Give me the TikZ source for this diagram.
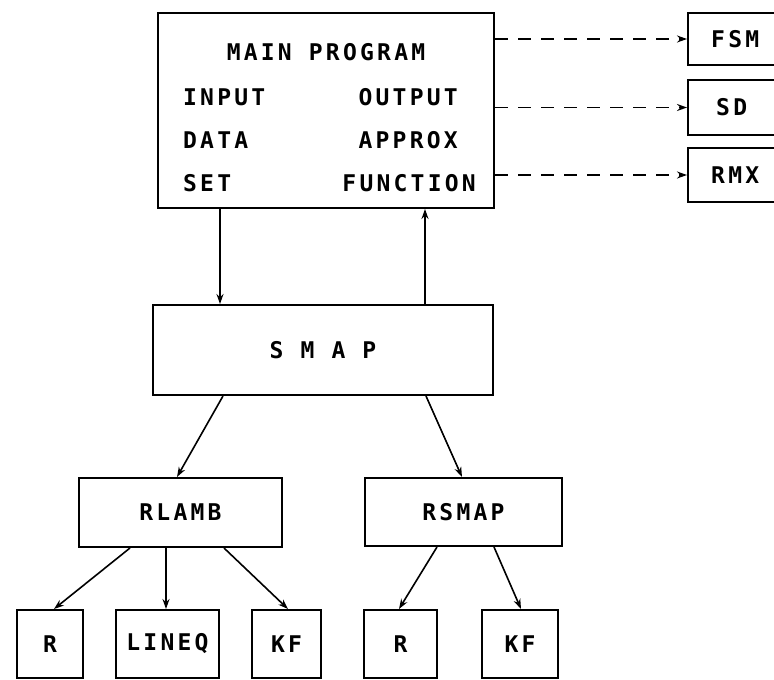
\documentclass[tikz,border=0pt]{standalone}
\usepackage{fontspec}
\newfontfamily\dotfont[LetterSpace=14]{DejaVu Sans Mono Bold}
\usetikzlibrary{arrows.meta}
\begin{document}
\begin{tikzpicture}[x=1pt,y=-1pt,
  box/.style={draw,line width=2pt,inner sep=0pt},
  lbl/.style={inner sep=0pt,font=\dotfont\fontsize{23}{23}\selectfont},
  conn/.style={line width=1.6pt,-{Stealth[length=10pt,width=7pt]}},
  dashconn/.style={conn,dash pattern=on 13pt off 10pt}]
\useasboundingbox (0,0) rectangle (774,680);
% main
\node[box,minimum width=336pt,minimum height=195pt] (main) at (326,110.5) {};
\node[lbl] (mp) at (326,52) {MAIN PROGRAM};
\node[lbl,anchor=west] (inp) at (183,97) {INPUT};
\node[lbl,anchor=west] (dat) at (183,140) {DATA};
\node[lbl,anchor=west] (set) at (183,183) {SET};
\node[lbl,anchor=east] (outp) at (458,97) {OUTPUT};
\node[lbl,anchor=east] (appr) at (458,140) {APPROX};
\node[lbl,anchor=east] (func) at (476,183) {FUNCTION};
% right boxes
\node[box,minimum width=102pt,minimum height=52pt] (fsm) at (739,39) {};
\node[lbl,anchor=west] (fsmt) at (711,39) {FSM};
\node[box,minimum width=102pt,minimum height=55pt] (sd) at (739,107.5) {};
\node[lbl,anchor=west] (sdt) at (716,107.5) {SD};
\node[box,minimum width=102pt,minimum height=54pt] (rmx) at (739,175) {};
\node[lbl,anchor=west] (rmxt) at (711,175) {RMX};
% SMAP
\node[box,minimum width=340pt,minimum height=90pt,lbl] (smap) at (323,350) {S M A P};
% level 2
\node[box,lbl,minimum width=203pt,minimum height=69pt] (rlamb) at (180.5,512.5) {RLAMB};
\node[box,lbl,minimum width=197pt,minimum height=68pt] (rsmap) at (463.5,512) {RSMAP};
% level 3
\node[box,lbl,minimum width=66pt,minimum height=68pt] (r1) at (50,644) {R};
\node[box,lbl,minimum width=103pt,minimum height=68pt] (lineq) at (167.5,644) {LINEQ};
\node[box,lbl,minimum width=69pt,minimum height=68pt] (kf1) at (286.5,644) {KF};
\node[box,lbl,minimum width=73pt,minimum height=68pt] (r2) at (400.5,644) {R};
\node[box,lbl,minimum width=76pt,minimum height=68pt] (kf2) at (520,644) {KF};
% connectors
\draw[conn] ([xshift=-106pt]main.south) -- ([xshift=-103pt]smap.north);
\draw[conn] ([xshift=102pt]smap.north) -- ([xshift=99pt]main.south);
\draw[dashconn] (main.east |- fsm.west) -- (fsm.west);
\draw[dashconn] (main.east |- sd.west) -- (sd.west);
\draw[dashconn] (main.east |- rmx.west) -- (rmx.west);
\draw[conn] ([xshift=-100pt]smap.south) -- ([xshift=-3.5pt]rlamb.north);
\draw[conn] ([xshift=103pt]smap.south) -- ([xshift=-1.5pt]rsmap.north);
\draw[conn] ([xshift=-50.5pt]rlamb.south) -- ([xshift=4pt]r1.north);
\draw[conn] ([xshift=-14.5pt]rlamb.south) -- ([xshift=-1.5pt]lineq.north);
\draw[conn] ([xshift=43.5pt]rlamb.south) -- ([xshift=1.5pt]kf1.north);
\draw[conn] ([xshift=-26.5pt]rsmap.south) -- ([xshift=-1.5pt]r2.north);
\draw[conn] ([xshift=30.5pt]rsmap.south) -- ([xshift=1pt]kf2.north);
\end{tikzpicture}
\end{document}
